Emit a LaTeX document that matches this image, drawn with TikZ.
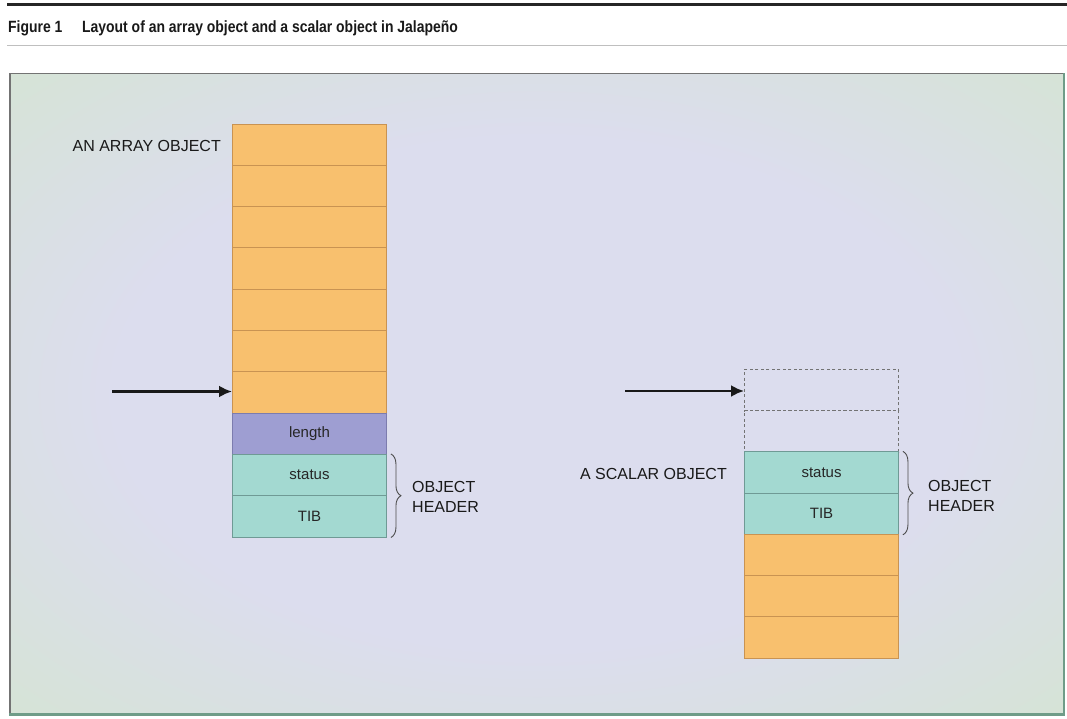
\documentclass[tikz,border=0pt]{standalone}
\usepackage{fontspec}
\setmainfont{Liberation Sans}
\newfontfamily\titlefont[FakeStretch=0.855]{Liberation Sans}
\usetikzlibrary{arrows.meta,decorations.pathreplacing}
\definecolor{lav}{HTML}{DCDDEE}
\definecolor{grn}{HTML}{D3E6CC}
\definecolor{orangecell}{HTML}{F8C06E}
\definecolor{orangeline}{HTML}{C99352}
\definecolor{purplecell}{HTML}{9E9ED2}
\definecolor{purpleline}{HTML}{7C7CAE}
\definecolor{tealcell}{HTML}{A3D9D1}
\definecolor{tealline}{HTML}{6F9A95}
\definecolor{panelborder}{HTML}{6F9C88}
\pgfdeclareradialshading{panelshade}{\pgfpoint{0bp}{0bp}}{color(0bp)=(lav); color(20bp)=(lav); color(42bp)=(grn); color(75bp)=(grn)}
\tikzset{
  cell/.style={minimum width=154pt, minimum height=41.3pt, inner sep=0pt, line width=0.9pt,
    font=\fontsize{15}{18}\selectfont, text=black!85},
  ocell/.style={cell, fill=orangecell, draw=orangeline},
  pcell/.style={cell, fill=purplecell, draw=purpleline},
  tcell/.style={cell, fill=tealcell, draw=tealline},
  dcell/.style={cell, draw=black!55, dash pattern=on 3pt off 2.5pt},
  lbl/.style={inner sep=0pt, font=\fontsize{16}{20}\selectfont, text=black!90},
  ptr/.style={-{Latex[length=13pt,width=12pt]}, line width=2.8pt, draw=black!90},
  brc/.style={decorate, decoration={brace, amplitude=10pt, raise=4pt}, draw=black!70, line width=0.9pt},
  ttl/.style={anchor=base west, inner sep=0pt, font=\titlefont\fontsize{16.3}{19}\bfseries, text=black!90}
}
\begin{document}
\begin{tikzpicture}[x=1pt,y=-1pt]
\useasboundingbox (0,0) rectangle (1067,719);
\fill[white] (0,0) rectangle (1067,719);
% header rules and title
\draw[line width=3pt, black!85] (7,5) -- (1067,5);
\draw[line width=0.8pt, black!25] (7,45) -- (1067,45);
\node[ttl] (fig) at (8,33) {Figure 1};
\node[ttl] (title) at (82,33) {Layout of an array object and a scalar object in Jalapeño};
% panel
\shade[shading=panelshade] (10,73.5) rectangle (1064,714);
\draw[line width=1.2pt, black!55] (10,714) -- (10,73.5) -- (1064,73.5);
\draw[line width=2pt, panelborder] (1064,73.5) -- (1064,714);
\draw[line width=3pt, panelborder] (9,714.5) -- (1065,714.5);
% array object
\node[ocell] (a1) at (309.5,144.65) {};
\node[ocell] (a2) at (309.5,185.95) {};
\node[ocell] (a3) at (309.5,227.25) {};
\node[ocell] (a4) at (309.5,268.55) {};
\node[ocell] (a5) at (309.5,309.85) {};
\node[ocell] (a6) at (309.5,351.15) {};
\node[ocell] (a7) at (309.5,392.45) {};
\node[pcell] (alen) at (309.5,433.75) {length};
\node[tcell] (ast) at (309.5,475.05) {status};
\node[tcell] (atib) at (309.5,516.35) {TIB};
\node[lbl, anchor=east] (alabel) at (221,146) {AN ARRAY OBJECT};
\coordinate (aarr) at (112,391.5);
\draw[ptr] (aarr) -- (a7.west |- aarr);
\draw[brc] (ast.north east) -- (atib.south east);
\node[lbl, anchor=west, align=left] (ahdr) at (412,497) {OBJECT\\HEADER};
% scalar object
\node[dcell] (d1) at (821.5,390.1) {};
\node[dcell] (d2) at (821.5,431.3) {};
\node[tcell] (sst) at (821.5,472.5) {status};
\node[tcell] (stib) at (821.5,513.7) {TIB};
\node[ocell] (s1) at (821.5,554.9) {};
\node[ocell] (s2) at (821.5,596.1) {};
\node[ocell] (s3) at (821.5,637.3) {};
\node[lbl, anchor=east] (slabel) at (727,474) {A SCALAR OBJECT};
\coordinate (sarr) at (625,391);
\draw[ptr] (sarr) -- (d1.west |- sarr);
\draw[brc] (sst.north east) -- (stib.south east);
\node[lbl, anchor=west, align=left] (shdr) at (928,496) {OBJECT\\HEADER};
\end{tikzpicture}
\end{document}
